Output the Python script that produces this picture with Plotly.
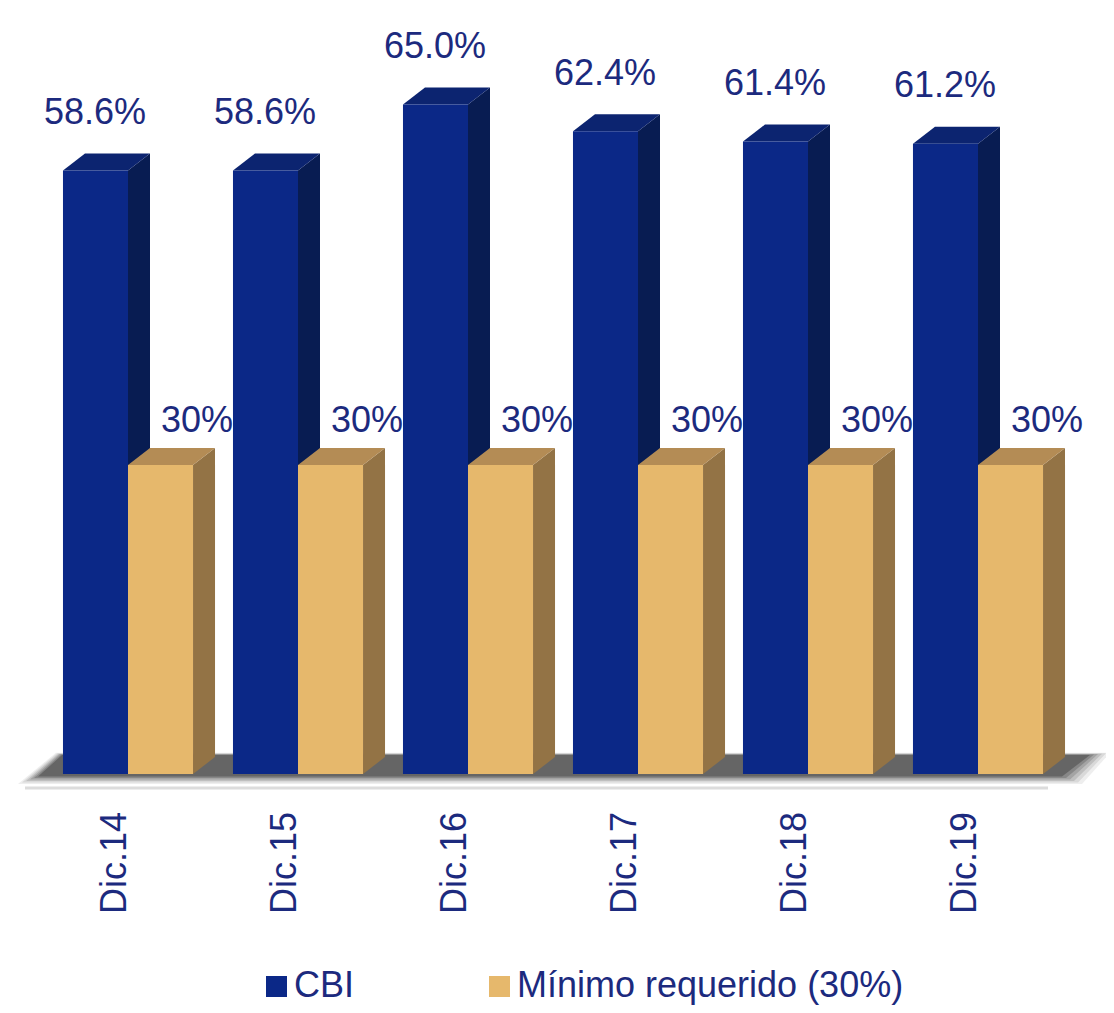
import plotly.graph_objects as go

# ---- data ----
categories = ["Dic.14", "Dic.15", "Dic.16", "Dic.17", "Dic.18", "Dic.19"]
cbi_values = [58.6, 58.6, 65.0, 62.4, 61.4, 61.2]
min_values = [30, 30, 30, 30, 30, 30]
series_names = ["CBI", "Mínimo requerido (30%)"]

# ---- style ----
FONT = "Liberation Sans, Arial, sans-serif"
TXT = "#1c2a7e"
CBI_FRONT, CBI_SIDE, CBI_TOP = "#0b2887", "#081c52", "#0c2470"
MIN_FRONT, MIN_SIDE, MIN_TOP = "#e6b86c", "#937345", "#b48c55"

OFF = 8                       # page body margin
W, H = 1114 - 2 * OFF, 1013 - 2 * OFF
PX_X = 170.0                  # pixels per category unit
PX_Y = 10.3                   # pixels per percent
X0 = -(128 - OFF) / PX_X
Y_BASE_PX = 774 - OFF
x_range = [X0, X0 + W / PX_X]
y_range = [-(H - Y_BASE_PX) / PX_Y, Y_BASE_PX / PX_Y]

def px_x(p):   # reference pixel -> data x
    return X0 + (p - OFF) / PX_X

def px_y(p):   # reference pixel -> data y
    return (Y_BASE_PX - (p - OFF)) / PX_Y

BARGAP = 0.235
HALF = (1 - BARGAP) / 4
DX = 22 / PX_X               # 3D depth offsets
DY = 17 / PX_Y

xs = list(range(len(categories)))

fig = go.Figure()
fig.add_trace(go.Bar(x=xs, y=cbi_values, name=series_names[0],
                     marker=dict(color=CBI_FRONT, line=dict(width=0)), showlegend=False))
fig.add_trace(go.Bar(x=xs, y=min_values, name=series_names[1],
                     marker=dict(color=MIN_FRONT, line=dict(width=0)), showlegend=False))

shapes = []

def poly(pts, color, opacity=1.0):
    path = "M " + " L ".join(f"{x},{y}" for x, y in pts) + " Z"
    return dict(type="path", path=path, xref="x", yref="y", fillcolor=color,
                line=dict(width=0), layer="below", opacity=opacity)

# floor shadow (soft, layered)
fl_left = px_x(38)
fl_right = px_x(1062)
for k, op in [(5, 0.1), (4, 0.14), (3, 0.2), (2, 0.28), (1, 0.4), (0, 0.8)]:
    ex = k * 4 / PX_X
    ey = k * 1.5 / PX_Y
    front = -0.25 - ey
    back = 19 / PX_Y + ey * 0.3
    shapes.append(poly([(fl_left - ex, front), (fl_right + ex, front),
                        (fl_right + 28 / PX_X + ex, back), (fl_left + 24 / PX_X - ex * 0.3, back)],
                       "#5c5c5c", op))

# baseline light line
shapes.append(dict(type="line", xref="x", yref="y", x0=px_x(25), x1=px_x(1048),
                   y0=px_y(788), y1=px_y(788), line=dict(color="#dcdcdc", width=3), layer="below"))

# CBI sides and tops
for i, v in zip(xs, cbi_values):
    xl, xr = i - 2 * HALF, i
    shapes.append(poly([(xr, 0), (xr, v), (xr + DX, v + DY), (xr + DX, DY)], CBI_SIDE))
    shapes.append(poly([(xl, v), (xr, v), (xr + DX, v + DY), (xl + DX, v + DY)], CBI_TOP))
# Minimum sides and tops
for i, v in zip(xs, min_values):
    xl, xr = i, i + 2 * HALF
    shapes.append(poly([(xr, 0), (xr, v), (xr + DX, v + DY), (xr + DX, DY)], MIN_SIDE))
    shapes.append(poly([(xl, v), (xr, v), (xr + DX, v + DY), (xl + DX, v + DY)], MIN_TOP))

annotations = []
for i, v in zip(xs, cbi_values):
    annotations.append(dict(x=i - HALF, y=v, xref="x", yref="y", text=f"{v:.1f}%",
                            showarrow=False, yanchor="middle", yshift=59,
                            font=dict(family=FONT, size=36, color=TXT)))
for i, v in zip(xs, min_values):
    annotations.append(dict(x=i + HALF, y=v, xref="x", yref="y", text=f"{v:.0f}%",
                            showarrow=False, yanchor="middle", yshift=46, xshift=36,
                            font=dict(family=FONT, size=36, color=TXT)))
for i, c in zip(xs, categories):
    annotations.append(dict(x=i, y=px_y(810), xref="x", yref="y", text=c,
                            showarrow=False, textangle=-90, yanchor="top", xanchor="center",
                            xshift=-15, font=dict(family=FONT, size=36, color=TXT)))

# legend (manual)
legend_items = [(series_names[0], CBI_FRONT, 266), (series_names[1], MIN_FRONT, 489)]
for name, col, px in legend_items:
    shapes.append(dict(type="rect", xref="paper", yref="paper",
                       x0=(px - OFF) / W, x1=(px + 21 - OFF) / W,
                       y0=1 - (997 - OFF) / H, y1=1 - (976 - OFF) / H,
                       fillcolor=col, line=dict(width=0)))
    annotations.append(dict(x=(px + 27 - OFF) / W, y=1 - (984 - OFF) / H, xref="paper", yref="paper",
                            text=name, showarrow=False, xanchor="left", yanchor="middle",
                            borderpad=0,
                            font=dict(family=FONT, size=36, color=TXT)))

fig.update_layout(
    width=W, height=H,
    margin=dict(l=0, r=0, t=0, b=0),
    paper_bgcolor="white", plot_bgcolor="white",
    barmode="group", bargap=BARGAP, bargroupgap=0,
    xaxis=dict(range=x_range, visible=False, fixedrange=True),
    yaxis=dict(range=y_range, visible=False, fixedrange=True),
    shapes=shapes, annotations=annotations, showlegend=False,
)

fig.write_html("out.html")
